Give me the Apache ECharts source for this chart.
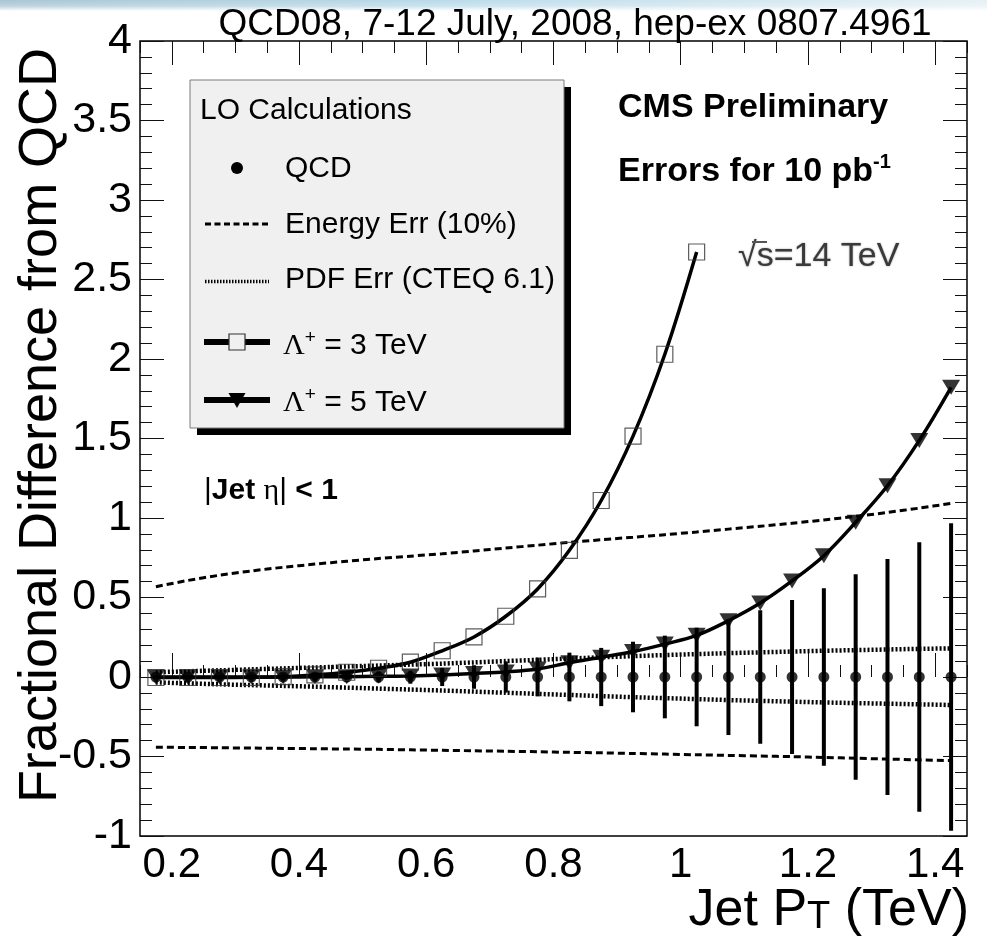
<!DOCTYPE html>
<html>
<head>
<meta charset="utf-8">
<script src="https://cdn.jsdelivr.net/npm/echarts@6/dist/echarts.min.js"></script>
<style>
  html, body { margin: 0; padding: 0; background: #fff; }
  #chart { width: 987px; height: 945px; }
</style>
</head>
<body>
<div id="chart"></div>
<script>
// Jet pT bin centres (TeV)
const ptBins = [0.175, 0.225, 0.275, 0.325, 0.375, 0.425, 0.475, 0.525, 0.575, 0.625,
                0.675, 0.725, 0.775, 0.825, 0.875, 0.925, 0.975, 1.025, 1.075, 1.125,
                1.175, 1.225, 1.275, 1.325, 1.375, 1.425];

// QCD reference (fractional difference = 0) and its statistical error for 10 pb^-1
const qcdValues = [0, 0, 0, 0, 0, 0, 0, 0, 0, 0, 0, 0, 0, 0, 0, 0, 0, 0, 0, 0, 0, 0, 0, 0, 0, 0];
const qcdErrors = [0.010, 0.012, 0.014, 0.017, 0.020, 0.024, 0.029, 0.035, 0.042, 0.057,
                   0.074, 0.098, 0.122, 0.153, 0.183, 0.222, 0.260, 0.310, 0.365, 0.420,
                   0.484, 0.558, 0.646, 0.742, 0.847, 0.967];

// Energy scale error band (10%)
const energyErrUp = [0.568, 0.607, 0.640, 0.667, 0.690, 0.710, 0.728, 0.745, 0.760, 0.775,
                     0.793, 0.811, 0.829, 0.847, 0.863, 0.879, 0.895, 0.912, 0.930, 0.948,
                     0.967, 0.988, 1.010, 1.035, 1.062, 1.092];
const energyErrDown = [-0.442, -0.443, -0.445, -0.447, -0.449, -0.451, -0.453, -0.455, -0.458, -0.461,
                       -0.464, -0.467, -0.470, -0.474, -0.477, -0.481, -0.485, -0.489, -0.493, -0.497,
                       -0.501, -0.506, -0.511, -0.516, -0.521, -0.526];

// PDF error band (CTEQ 6.1)
const pdfErrUp = [0.030, 0.036, 0.042, 0.048, 0.054, 0.060, 0.066, 0.072, 0.078, 0.084,
                  0.092, 0.100, 0.108, 0.116, 0.124, 0.131, 0.138, 0.144, 0.150, 0.155,
                  0.160, 0.165, 0.169, 0.173, 0.177, 0.180];
const pdfErrDown = [-0.034, -0.040, -0.046, -0.051, -0.056, -0.061, -0.067, -0.073, -0.079, -0.085,
                    -0.092, -0.099, -0.106, -0.113, -0.120, -0.127, -0.133, -0.139, -0.145, -0.150,
                    -0.155, -0.160, -0.164, -0.168, -0.172, -0.176];

// Contact interaction, Lambda+ = 3 TeV (first 18 bins)
const lambda3Values = [-0.003, -0.003, -0.003, -0.002, 0.002, 0.013, 0.030, 0.055, 0.093, 0.165,
                       0.252, 0.382, 0.554, 0.797, 1.110, 1.515, 2.030, 2.673];
// Contact interaction, Lambda+ = 5 TeV
const lambda5Values = [0.000, 0.000, 0.000, 0.000, 0.000, 0.001, 0.002, 0.004, 0.007, 0.013,
                       0.022, 0.032, 0.050, 0.090, 0.124, 0.160, 0.207, 0.262, 0.354, 0.465,
                       0.604, 0.763, 0.973, 1.203, 1.488, 1.822];

// Axis ranges and labelled ticks
const xRange = [0.15, 1.45];
const xTickLabels = [0.2, 0.4, 0.6, 0.8, 1.0, 1.2, 1.4];
const yRange = [-1, 4];
const yTickStep = 0.5;

const FONT = '"Liberation Sans", Arial, Helvetica, sans-serif';
const SERIF = '"Liberation Serif", "Times New Roman", serif';

const pairs = (xs, ys) => ys.map((y, i) => [xs[i], y]);

// Four x axes: labelled major ticks and minor ticks, mirrored on the top edge
function xAxisDef(position, major, withLabels) {
  const def = {
    type: 'value', gridIndex: 0, position: position,
    min: xRange[0], max: xRange[1],
    axisLine: { show: false },
    splitLine: { show: false },
    axisTick: {
      show: true, inside: true, length: major ? 24 : 12,
      lineStyle: { color: '#111', width: 1 }
    },
    axisLabel: { show: false }
  };
  if (major) {
    def.axisTick.customValues = xTickLabels;
    def.axisLabel = {
      show: withLabels, customValues: xTickLabels,
      fontFamily: FONT, fontSize: 42, color: '#000', margin: 8,
      formatter: v => String(+(+v).toFixed(2))
    };
  } else {
    def.interval = 0.05;
  }
  return def;
}

function yAxisDef(position, withLabels) {
  return {
    type: 'value', gridIndex: 0, position: position,
    min: yRange[0], max: yRange[1], interval: yTickStep,
    axisLine: { show: false },
    splitLine: { show: false },
    axisTick: { show: true, inside: true, length: 24, lineStyle: { color: '#111', width: 1 } },
    minorTick: { show: true, splitNumber: 5, length: 12, lineStyle: { color: '#111', width: 1 } },
    axisLabel: {
      show: withLabels, fontFamily: FONT, fontSize: 43, color: '#000', margin: 8
    }
  };
}

const xAxes = [
  xAxisDef('bottom', true, true),
  xAxisDef('bottom', false, false),
  xAxisDef('top', true, false),
  xAxisDef('top', false, false)
];

const yAxes = [yAxisDef('left', true), yAxisDef('right', false)];
yAxes[0].name = 'Fractional Difference from QCD';
yAxes[0].nameLocation = 'middle';
yAxes[0].nameRotate = 90;
yAxes[0].nameGap = 72;
yAxes[0].nameMoveOverlap = false;
yAxes[0].nameTextStyle = { fontFamily: FONT, fontSize: 54, color: '#000', padding: [0, 0, 0, 26] };

const PDF_DASH = [2, 2];

const option = {
  animation: false,
  backgroundColor: '#fff',
  grid: {
    left: 140, right: 20, top: 41, bottom: 109,
    containLabel: false, outerBoundsMode: 'none',
    show: true, borderColor: '#000', borderWidth: 1.5, backgroundColor: 'transparent'
  },
  xAxis: xAxes,
  yAxis: yAxes,
  series: [
    {
      name: 'Energy Err up', type: 'line', xAxisIndex: 0, yAxisIndex: 0,
      data: pairs(ptBins, energyErrUp), showSymbol: false, smooth: 0.3, z: 2,
      lineStyle: { color: '#000', width: 3, type: [7, 4] }
    },
    {
      name: 'Energy Err down', type: 'line', xAxisIndex: 0, yAxisIndex: 0,
      data: pairs(ptBins, energyErrDown), showSymbol: false, smooth: 0.3, z: 2,
      lineStyle: { color: '#000', width: 3, type: [7, 4] }
    },
    {
      name: 'PDF Err up', type: 'line', xAxisIndex: 0, yAxisIndex: 0,
      data: pairs(ptBins, pdfErrUp), showSymbol: false, smooth: 0.3, z: 2,
      lineStyle: { color: '#000', width: 4.5, type: PDF_DASH }
    },
    {
      name: 'PDF Err down', type: 'line', xAxisIndex: 0, yAxisIndex: 0,
      data: pairs(ptBins, pdfErrDown), showSymbol: false, smooth: 0.3, z: 2,
      lineStyle: { color: '#000', width: 4.5, type: PDF_DASH }
    },
    {
      name: 'QCD error', type: 'custom', xAxisIndex: 0, yAxisIndex: 0, z: 3,
      data: ptBins.map((x, i) => [x, qcdValues[i], qcdErrors[i]]),
      encode: { x: 0, y: 1 },
      renderItem: function (params, api) {
        const x = api.value(0), y = api.value(1), e = api.value(2);
        const lo = api.coord([x, y - e]);
        const hi = api.coord([x, y + e]);
        return {
          type: 'line',
          shape: { x1: lo[0], y1: lo[1], x2: hi[0], y2: hi[1] },
          style: { stroke: '#000', lineWidth: 4 }
        };
      }
    },
    {
      name: 'QCD', type: 'scatter', xAxisIndex: 0, yAxisIndex: 0, z: 4,
      data: pairs(ptBins, qcdValues), symbol: 'circle', symbolSize: 11,
      itemStyle: { color: '#000' }
    },
    {
      name: 'Lambda 3 TeV curve', type: 'line', xAxisIndex: 0, yAxisIndex: 0, z: 5,
      data: pairs(ptBins, lambda3Values), showSymbol: false, smooth: 0.35,
      lineStyle: { color: '#000', width: 3.5 }
    },
    {
      name: 'Lambda 5 TeV curve', type: 'line', xAxisIndex: 0, yAxisIndex: 0, z: 5,
      data: pairs(ptBins, lambda5Values), showSymbol: false, smooth: 0.35,
      lineStyle: { color: '#000', width: 3.5 }
    },
    {
      name: 'Lambda 5 TeV', type: 'scatter', xAxisIndex: 0, yAxisIndex: 0, z: 6,
      data: pairs(ptBins, lambda5Values), symbol: 'triangle', symbolRotate: 180,
      symbolSize: [18, 15], itemStyle: { color: '#000' }
    },
    {
      name: 'Lambda 3 TeV', type: 'scatter', xAxisIndex: 0, yAxisIndex: 0, z: 7,
      data: pairs(ptBins, lambda3Values), symbol: 'rect', symbolSize: 16,
      itemStyle: { color: 'rgba(0,0,0,0)', borderColor: '#333', borderWidth: 1.2 }
    }
  ],
  graphic: [
    // slide header band
    {
      type: 'rect', left: 0, top: 0, z: 0,
      shape: { width: 987, height: 11 },
      style: {
        fill: new echarts.graphic.LinearGradient(0, 0, 1, 0, [
          { offset: 0, color: '#a9c6d3' },
          { offset: 0.45, color: '#b9dbea' },
          { offset: 1, color: '#e6f1f5' }
        ])
      }
    },
    {
      type: 'rect', left: 0, top: 0, z: 1,
      shape: { width: 987, height: 11 },
      style: {
        fill: new echarts.graphic.LinearGradient(0, 0, 0, 1, [
          { offset: 0, color: 'rgba(255,255,255,0)' },
          { offset: 0.55, color: 'rgba(255,255,255,0.25)' },
          { offset: 1, color: 'rgba(255,255,255,1)' }
        ])
      }
    },
    {
      type: 'text', z: 10,
      style: {
        x: 575, y: 25, text: 'QCD08, 7-12 July, 2008, hep-ex 0807.4961',
        font: '37px ' + FONT, fill: '#000', align: 'center', verticalAlign: 'middle'
      }
    },
    // x axis title with subscript
    {
      type: 'text', z: 10,
      style: {
        x: 969, y: 885, align: 'right', verticalAlign: 'top',
        text: '{m|Jet P}{s|T}{m| (TeV)}',
        rich: {
          m: { fontFamily: FONT, fontSize: 52, lineHeight: 52, verticalAlign: 'top', fill: '#000' },
          s: { fontFamily: FONT, fontSize: 38, lineHeight: 38, verticalAlign: 'bottom', padding: [29, 0, 0, 0], fill: '#000' }
        }
      }
    },
    // legend box with drop shadow
    { type: 'rect', z: 20, shape: { x: 197, y: 87, width: 374, height: 348 }, style: { fill: '#000' } },
    { type: 'rect', z: 21, shape: { x: 190, y: 80, width: 374, height: 348 }, style: { fill: '#f0f0f0', stroke: '#7a7a7a', lineWidth: 1 } },
    { type: 'text', z: 22, style: { x: 200, y: 111, text: 'LO Calculations', font: '30px ' + FONT, fill: '#000', verticalAlign: 'middle' } },
    { type: 'circle', z: 22, shape: { cx: 237, cy: 168, r: 6 }, style: { fill: '#000' } },
    { type: 'text', z: 22, style: { x: 285, y: 169, text: 'QCD', font: '30px ' + FONT, fill: '#000', verticalAlign: 'middle' } },
    { type: 'line', z: 22, shape: { x1: 205, y1: 224, x2: 269, y2: 224 }, style: { stroke: '#000', lineWidth: 3, lineDash: [6, 3.5] } },
    { type: 'text', z: 22, style: { x: 285, y: 225, text: 'Energy Err (10%)', font: '30px ' + FONT, fill: '#000', verticalAlign: 'middle' } },
    { type: 'line', z: 22, shape: { x1: 205, y1: 281.5, x2: 269, y2: 281.5 }, style: { stroke: '#000', lineWidth: 3.5, lineDash: [1.5, 1.5] } },
    { type: 'text', z: 22, style: { x: 285, y: 280, text: 'PDF Err (CTEQ 6.1)', font: '30px ' + FONT, fill: '#000', verticalAlign: 'middle' } },
    { type: 'line', z: 22, shape: { x1: 204, y1: 342, x2: 270, y2: 342 }, style: { stroke: '#000', lineWidth: 6 } },
    { type: 'rect', z: 23, shape: { x: 229, y: 334, width: 16, height: 16 }, style: { fill: '#f0f0f0', stroke: '#333', lineWidth: 1.2 } },
    {
      type: 'text', z: 22,
      style: {
        x: 283, y: 346, verticalAlign: 'middle',
        text: '{g|\u039b}{p|+}{t| = 3 TeV}',
        rich: {
          g: { fontFamily: SERIF, fontSize: 30, lineHeight: 36, verticalAlign: 'middle', fill: '#000' },
          p: { fontFamily: FONT, fontSize: 19, lineHeight: 20, verticalAlign: 'top', fill: '#000' },
          t: { fontFamily: FONT, fontSize: 30, lineHeight: 36, verticalAlign: 'middle', fill: '#000' }
        }
      }
    },
    { type: 'line', z: 22, shape: { x1: 204, y1: 400, x2: 270, y2: 400 }, style: { stroke: '#000', lineWidth: 6 } },
    { type: 'polygon', z: 23, shape: { points: [[228.5, 393], [245.5, 393], [237, 408]] }, style: { fill: '#000' } },
    {
      type: 'text', z: 22,
      style: {
        x: 283, y: 403, verticalAlign: 'middle',
        text: '{g|\u039b}{p|+}{t| = 5 TeV}',
        rich: {
          g: { fontFamily: SERIF, fontSize: 30, lineHeight: 36, verticalAlign: 'middle', fill: '#000' },
          p: { fontFamily: FONT, fontSize: 19, lineHeight: 20, verticalAlign: 'top', fill: '#000' },
          t: { fontFamily: FONT, fontSize: 30, lineHeight: 36, verticalAlign: 'middle', fill: '#000' }
        }
      }
    },
    // annotations
    { type: 'text', z: 22, style: { x: 618, y: 108, text: 'CMS Preliminary', font: 'bold 34px ' + FONT, fill: '#000', verticalAlign: 'middle' } },
    {
      type: 'text', z: 22,
      style: {
        x: 618, y: 172, verticalAlign: 'middle',
        text: '{t|Errors for 10 pb}{p|-1}',
        rich: {
          t: { fontFamily: FONT, fontWeight: 'bold', fontSize: 34, lineHeight: 40, verticalAlign: 'middle', fill: '#000' },
          p: { fontFamily: FONT, fontWeight: 'bold', fontSize: 20, lineHeight: 22, verticalAlign: 'top', fill: '#000' }
        }
      }
    },
    {
      type: 'text', z: 22,
      style: {
        x: 738, y: 257, text: '\u221as=14 TeV', font: '34px ' + FONT, fill: '#3a3a3a',
        verticalAlign: 'middle', textShadowColor: 'rgba(60,60,60,0.5)', textShadowBlur: 2
      }
    },
    { type: 'line', z: 22, shape: { x1: 752, y1: 242, x2: 767, y2: 242 }, style: { stroke: '#555', lineWidth: 2 } },
    {
      type: 'text', z: 22,
      style: {
        x: 204, y: 491, verticalAlign: 'middle',
        text: '{r||}{b|Jet }{g|\u03b7}{r||}{b| < 1}',
        rich: {
          r: { fontFamily: FONT, fontSize: 30, lineHeight: 36, fill: '#000' },
          b: { fontFamily: FONT, fontWeight: 'bold', fontSize: 30, lineHeight: 36, fill: '#000' },
          g: { fontFamily: SERIF, fontSize: 30, lineHeight: 36, fill: '#000' }
        }
      }
    }
  ]
};

const chart = echarts.init(document.getElementById('chart'), null, { renderer: 'canvas' });
chart.setOption(option);
</script>
</body>
</html>
